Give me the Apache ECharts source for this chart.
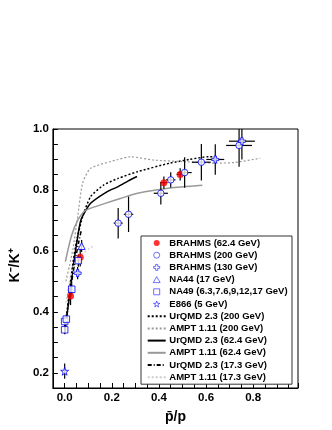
<!DOCTYPE html>
<html>
<head>
<meta charset="utf-8">
<script src="https://cdn.jsdelivr.net/npm/echarts@6/dist/echarts.min.js"></script>
<style>
  html, body { margin: 0; padding: 0; background: #fff; }
  #chart { width: 332px; height: 430px; }
</style>
</head>
<body>
<div id="chart"></div>
<script>
// data points: [x, y, ex, ey]
var brahms62 = [[0.025, 0.452, 0.004, 0.03], [0.066, 0.579, 0.005, 0.03], [0.421, 0.824, 0.015, 0.02], [0.49, 0.851, 0.015, 0.02]];
var brahms200 = [[0.227, 0.691, 0.019, 0.05], [0.271, 0.72, 0.02, 0.058], [0.408, 0.789, 0.03, 0.037], [0.45, 0.833, 0.02, 0.025],
  [0.509, 0.857, 0.03, 0.05], [0.58, 0.891, 0.04, 0.06], [0.74, 0.946, 0.055, 0.07]];
var brahms130 = [[0.055, 0.527, 0.004, 0.02], [0.639, 0.9, 0.038, 0.05], [0.752, 0.96, 0.055, 0.06]];
var na44 = [[0.072, 0.616, 0.006, 0.02]];
var na49 = [[0.0, 0.341, 0.002, 0.015], [0.0, 0.368, 0.002, 0.015], [0.007, 0.376, 0.002, 0.015], [0.03, 0.474, 0.003, 0.02], [0.058, 0.568, 0.004, 0.02]];
var e866 = [[0.0, 0.205, 0.002, 0.025]];

// model curves
var urqmd200 = [[0.0, 0.33], [0.01, 0.40], [0.02, 0.47], [0.035, 0.56], [0.05, 0.63], [0.076, 0.712], [0.11, 0.778], [0.165, 0.816],
  [0.227, 0.838], [0.309, 0.86], [0.447, 0.888], [0.529, 0.9], [0.612, 0.909], [0.64, 0.908]];
var ampt200 = [[0.005, 0.50], [0.02, 0.55], [0.035, 0.606], [0.055, 0.712], [0.076, 0.822], [0.11, 0.871], [0.227, 0.9], [0.28, 0.909],
  [0.378, 0.898], [0.502, 0.893], [0.64, 0.888], [0.72, 0.89], [0.83, 0.904]];
var urqmd62 = [[0.0, 0.33], [0.01, 0.39], [0.02, 0.45], [0.035, 0.54], [0.05, 0.62], [0.069, 0.702], [0.11, 0.756], [0.179, 0.794],
  [0.227, 0.811], [0.27, 0.83], [0.307, 0.844]];
var ampt62 = [[0.003, 0.565], [0.028, 0.647], [0.055, 0.70], [0.082, 0.729], [0.103, 0.738], [0.172, 0.756], [0.24, 0.773],
  [0.309, 0.789], [0.447, 0.806], [0.584, 0.815]];
var urqmd17 = [[0.0, 0.33], [0.015, 0.42], [0.03, 0.5], [0.045, 0.57], [0.06, 0.63], [0.07, 0.665]];
var ampt17 = [[0.005, 0.43], [0.02, 0.5], [0.04, 0.555], [0.06, 0.585], [0.082, 0.594], [0.1, 0.605], [0.124, 0.618]];

var pointNames = ['BRAHMS (62.4 GeV)', 'BRAHMS (200 GeV)', 'BRAHMS (130 GeV)', 'NA44 (17 GeV)', 'NA49 (6.3,7.6,9,12,17 GeV)', 'E866 (5 GeV)'];
var curveNames = ['UrQMD 2.3 (200 GeV)', 'AMPT 1.11 (200 GeV)', 'UrQMD 2.3 (62.4 GeV)', 'AMPT 1.11 (62.4 GeV)',
  'UrQMD 2.3 (17.3 GeV)', 'AMPT 1.11 (17.3 GeV)'];

var FONT = 'Liberation Sans';
var BLUE = '#0000ff';
var crossPath = 'path://M2,0L4,0L4,2L6,2L6,4L4,4L4,6L2,6L2,4L0,4L0,2L2,2Z';
var starPath = 'path://M50,0L61,35L98,35L68,57L79,91L50,70L21,91L32,57L2,35L39,35Z';
var triPath = 'path://M50,0L100,87L0,87Z';
var sqPath = 'path://M0,0L10,0L10,10L0,10Z';

var errData = [].concat(brahms62, brahms200, brahms130, na44, na49, e866);

function onlyMajor(v) {
  var k = v / 0.2;
  return Math.abs(k - Math.round(k)) < 1e-6 ? v.toFixed(1) : '';
}

function pts(arr) {
  return arr.map(function (d) { return [d[0], d[1]]; });
}

function scatter(name, arr, symbol, size, filled) {
  return {
    name: name, type: 'scatter', data: pts(arr), symbol: symbol, symbolSize: size, z: 5,
    itemStyle: filled ? { color: '#ff0000' } : { color: '#fff', borderColor: BLUE, borderWidth: 1 }
  };
}

function curve(name, arr, color, type, width) {
  return {
    name: name, type: 'line', data: arr, symbol: 'none', smooth: 0.2, z: 3,
    lineStyle: { color: color, type: type, width: width }, itemStyle: { color: color }
  };
}

// open markers get a thinner outline in the legend, curve entries hide the marker dot
var legendData = pointNames.map(function (n, i) {
  return i === 0 ? { name: n } : { name: n, itemStyle: { borderWidth: 0.7 } };
}).concat(curveNames.map(function (n) { return { name: n, itemStyle: { opacity: 0 } }; }));

var chart = echarts.init(document.getElementById('chart'));
chart.setOption({
  backgroundColor: '#fff',
  animation: false,
  grid: { left: 46, right: 34, top: 129, bottom: 42, show: true, borderColor: '#000', borderWidth: 1 },
  xAxis: {
    type: 'value', min: -0.05, max: 0.99, interval: 0.05,
    splitLine: { show: false },
    axisLine: { onZero: false, lineStyle: { color: '#000', width: 1 } },
    axisTick: { inside: true, length: 5, lineStyle: { color: '#000' } },
    axisLabel: { formatter: onlyMajor, color: '#000', fontFamily: FONT, fontWeight: 'bold', fontSize: 11.5, margin: 4 },
    name: 'p\u0304/p', nameLocation: 'middle', nameGap: 22,
    nameTextStyle: { color: '#000', fontFamily: FONT, fontWeight: 'bold', fontSize: 14 }
  },
  yAxis: {
    type: 'value', min: 0.15, max: 1.0, interval: 0.05,
    splitLine: { show: false },
    axisLine: { onZero: false, lineStyle: { color: '#000', width: 1 } },
    axisTick: { inside: true, length: 5, lineStyle: { color: '#000' } },
    axisLabel: { formatter: onlyMajor, color: '#000', fontFamily: FONT, fontWeight: 'bold', fontSize: 11.5, margin: 4 },
    name: 'K\u207B/K\u207A', nameLocation: 'middle', nameGap: 26,
    nameTextStyle: { color: '#000', fontFamily: FONT, fontWeight: 'bold', fontSize: 14, padding: [0, 14, 0, 0] }
  },
  legend: {
    orient: 'vertical', left: 141, top: 236, height: 160,
    padding: [2, 4.4, 2, 5.7], itemWidth: 18, itemHeight: 6, itemGap: 2.2,
    borderColor: '#333', borderWidth: 1, backgroundColor: '#fff',
    textStyle: { color: '#000', fontFamily: FONT, fontWeight: 'bold', fontSize: 9.5, padding: [0, 0, 0, -1.4] },
    data: legendData
  },
  series: [
    curve(curveNames[0], urqmd200, '#000', [2, 2], 1.5),
    curve(curveNames[1], ampt200, '#999', [2, 2], 1.2),
    curve(curveNames[2], urqmd62, '#000', 'solid', 1.5),
    curve(curveNames[3], ampt62, '#999', 'solid', 1.5),
    curve(curveNames[4], urqmd17, '#000', [4, 2, 1, 2], 1.5),
    curve(curveNames[5], ampt17, '#ccc', [2, 2], 1.2),
    {
      type: 'custom', name: 'errors', data: errData, z: 4, clip: true,
      renderItem: function (params, api) {
        var x = api.value(0), y = api.value(1), ex = api.value(2), ey = api.value(3);
        var l = api.coord([x - ex, y]), r = api.coord([x + ex, y]);
        var b = api.coord([x, y - ey]), t = api.coord([x, y + ey]);
        var st = { stroke: '#000', lineWidth: 1.2 };
        return {
          type: 'group', children: [
            { type: 'line', shape: { x1: l[0], y1: l[1], x2: r[0], y2: r[1] }, style: st },
            { type: 'line', shape: { x1: b[0], y1: b[1], x2: t[0], y2: t[1] }, style: st }
          ]
        };
      }
    },
    scatter(pointNames[0], brahms62, 'circle', 7, true),
    scatter(pointNames[1], brahms200, 'circle', 6.5, false),
    scatter(pointNames[2], brahms130, crossPath, 7, false),
    scatter(pointNames[3], na44, triPath, 7, false),
    scatter(pointNames[4], na49, sqPath, 6.5, false),
    scatter(pointNames[5], e866, starPath, 8, false)
  ]
});
</script>
</body>
</html>
